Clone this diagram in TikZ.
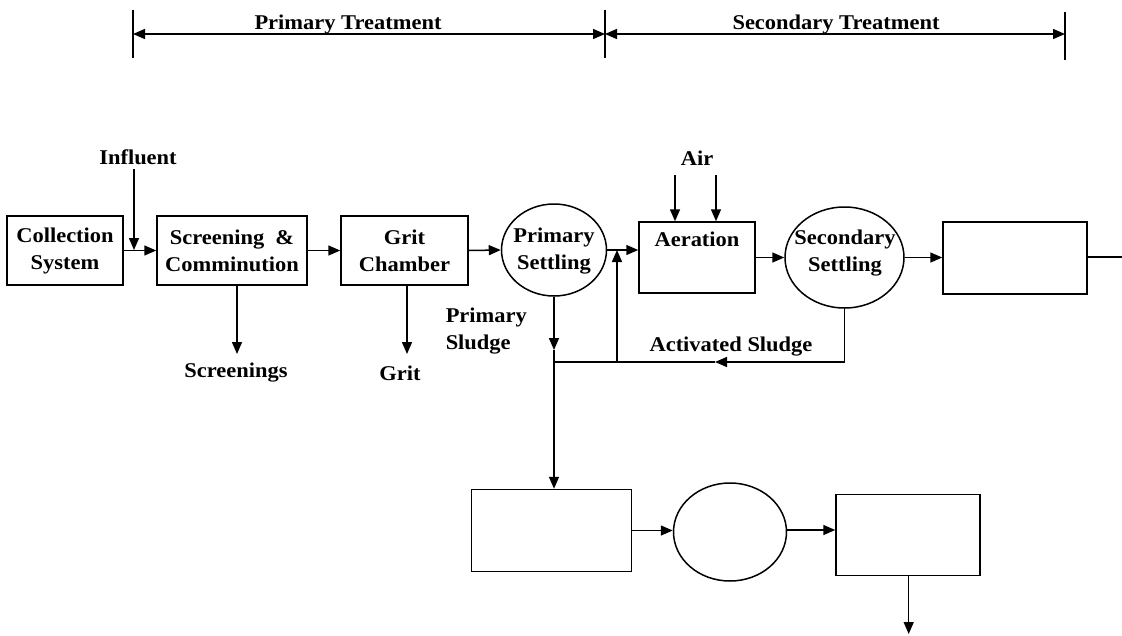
\documentclass[tikz,border=0pt]{standalone}
\usepackage{fontspec}
\setmainfont[FakeStretch=1.07]{Liberation Serif}
\usetikzlibrary{arrows.meta,shapes.geometric}
\begin{document}
\begin{tikzpicture}[x=1pt,y=-1pt, line width=1.5pt,
  box/.style={draw, rectangle, inner sep=0pt},
  oval/.style={draw, ellipse, inner sep=0pt},
  lbl/.style={font=\fontsize{21}{27}\selectfont\bfseries, align=center, inner sep=0pt},
  arr/.style={-{Triangle[length=12pt,width=10pt]}},
  darr/.style={{Triangle[length=12pt,width=10pt]}-{Triangle[length=12pt,width=10pt]}},
  ]
\useasboundingbox (0,0) rectangle (1122,635);

% top brackets
\coordinate (t1a) at (133,10); \coordinate (t1b) at (133,58);
\coordinate (t2a) at (605,10); \coordinate (t2b) at (605,58);
\coordinate (t3a) at (1065,12); \coordinate (t3b) at (1065,60);
\draw (t1a) -- (t1b);
\draw (t2a) -- (t2b);
\draw (t3a) -- (t3b);
\coordinate (a1) at (133,34); \coordinate (a2) at (605,34); \coordinate (a3) at (1065,34);
\draw[darr] (a1) -- (a2);
\draw[darr] (a2) -- (a3);
\node[lbl, anchor=base] (pt) at (348,29) {Primary Treatment};
\node[lbl, anchor=base] (st) at (836,29) {Secondary Treatment};

% main row
\node[box, minimum width=116pt, minimum height=69pt, lbl] (cs) at (65,250.5) {Collection\\System};
\node[box, minimum width=150pt, minimum height=69pt, lbl] (sc) at (232,250.5) {Screening \ \&\\Comminution};
\node[box, minimum width=127pt, minimum height=69pt, lbl] (gc) at (404.5,250.5) {Grit\\Chamber};
\node[oval, minimum width=105pt, minimum height=92pt] (ps) at (554,250) {};
\node[lbl] (pst) at (554,251) {Primary\\Settling};
\node[box, minimum width=116pt, minimum height=71pt] (ae) at (697,257.5) {};
\node[lbl] (aet) at (697,239) {Aeration};
\node[oval, minimum width=119pt, minimum height=101pt] (ss) at (844.5,257.5) {};
\node[lbl] (sst) at (845,253) {Secondary\\Settling};
\node[box, minimum width=144pt, minimum height=72pt] (rb) at (1015,258) {};
\coordinate (out) at (1122,257);

\draw[arr] (cs.east) -- (sc.west);
\node[lbl] (inf) at (138,157) {Influent};
\coordinate (infe) at (134,250);
\draw[arr] (inf.south -| infe) ++(0,4) coordinate (infs) -- (infe);
\draw[arr] (sc.east) -- (gc.west);
\draw[arr] (gc.east) -- (ps.west);
\draw[arr] (ps.east) -- (ae.west |- ps.east);
\draw[arr] (ae.east |- ss.west) -- (ss.west);
\draw[arr] (ss.east) -- (rb.west |- ss.east);
\draw (rb.east |- out) -- (out);

% air
\node[lbl] (air) at (697,158) {Air};
\coordinate (air1) at (675,175); \coordinate (air2) at (716,175);
\draw[arr] (air1) -- (air1 |- ae.north);
\draw[arr] (air2) -- (air2 |- ae.north);

% screenings, grit
\node[lbl] (scr) at (236,373) {Screenings};
\node[lbl] (grt) at (400,373) {Grit};
\coordinate (scrt) at (237,354); \coordinate (grtt) at (407,354);
\draw[arr] (scrt |- sc.south) -- (scrt);
\draw[arr] (grtt |- gc.south) -- (grtt);

% sludge lines
\node[lbl, align=left, anchor=west] (psl) at (445,331) {Primary\\Sludge};
\node[lbl] (asl) at (731,347) {Activated Sludge};
\node[box, minimum width=160pt, minimum height=82pt] (b1) at (551.5,530.5) {};
\node[oval, minimum width=113pt, minimum height=98pt] (e2) at (730,532) {};
\node[box, minimum width=144pt, minimum height=81pt] (b3) at (908,535) {};
\coordinate (psm) at (ps.south |- 0,350);
\coordinate (jn) at (ps.south |- 0,362);
\coordinate (asm) at (715,362);
\coordinate (ret) at (617,362);
\coordinate (rett) at (617,250);
\draw[arr] (ps.south) -- (psm);
\draw[arr] (psm) -- (ps.south |- b1.north);
\draw[arr] (ss.south) |- (asm);
\draw (asm) -- (jn);
\draw[arr] (ret) -- (rett);

% bottom row
\draw[arr] (b1.east |- 0,530.5) -- (e2.west |- 0,530.5);
\draw[arr] (e2.east |- 0,530) -- (b3.west |- 0,530);
\coordinate (dn) at (908.7,634);
\draw[arr] (dn |- b3.south) -- (dn);
\end{tikzpicture}
\end{document}
